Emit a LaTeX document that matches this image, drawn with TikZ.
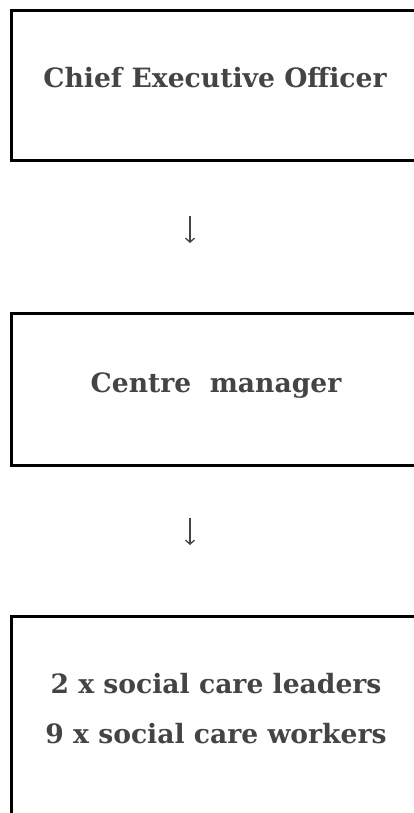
\documentclass[tikz,border=0pt]{standalone}
\usepackage{fontspec}
\setmainfont{DejaVu Serif}
\usetikzlibrary{arrows.meta}
\definecolor{ink}{HTML}{444444}
\tikzset{
  orgbox/.style={draw=black, line width=3pt},
  orglabel/.style={text=ink, font=\bfseries\fontsize{26.6}{32}\selectfont, align=center, inner sep=0pt},
  downarrow/.style={draw=ink, line width=1.5pt, -{Straight Barb[length=4pt, width=9pt, line width=1.3pt]}}
}
\begin{document}
\begin{tikzpicture}[x=1pt, y=-1pt]
  \useasboundingbox (0,0) rectangle (414,813);
  \clip (0,0) rectangle (414,813);
  % boxes (right side and last bottom run past the page edge)
  \draw[orgbox] (11,11) rectangle (440,161);
  \draw[orgbox] (11,313) rectangle (440,465);
  \draw[orgbox] (11,616) rectangle (440,840);
  % labels
  \node[orglabel, anchor=base] (ceo) at (215,88) {Chief Executive Officer};
  \node[orglabel, anchor=base] (cm) at (216,392) {Centre\ \ manager};
  \node[orglabel, anchor=base] (staff1) at (216,693) {2 x social care leaders};
  \node[orglabel, anchor=base] (staff2) at (216,743) {9 x social care workers};
  % arrows between levels
  \coordinate (a1s) at (190,216);
  \coordinate (a1e) at (190,243);
  \coordinate (a2s) at (190,518);
  \coordinate (a2e) at (190,545);
  \draw[downarrow] (a1s) -- (a1e);
  \draw[downarrow] (a2s) -- (a2e);
\end{tikzpicture}
\end{document}
